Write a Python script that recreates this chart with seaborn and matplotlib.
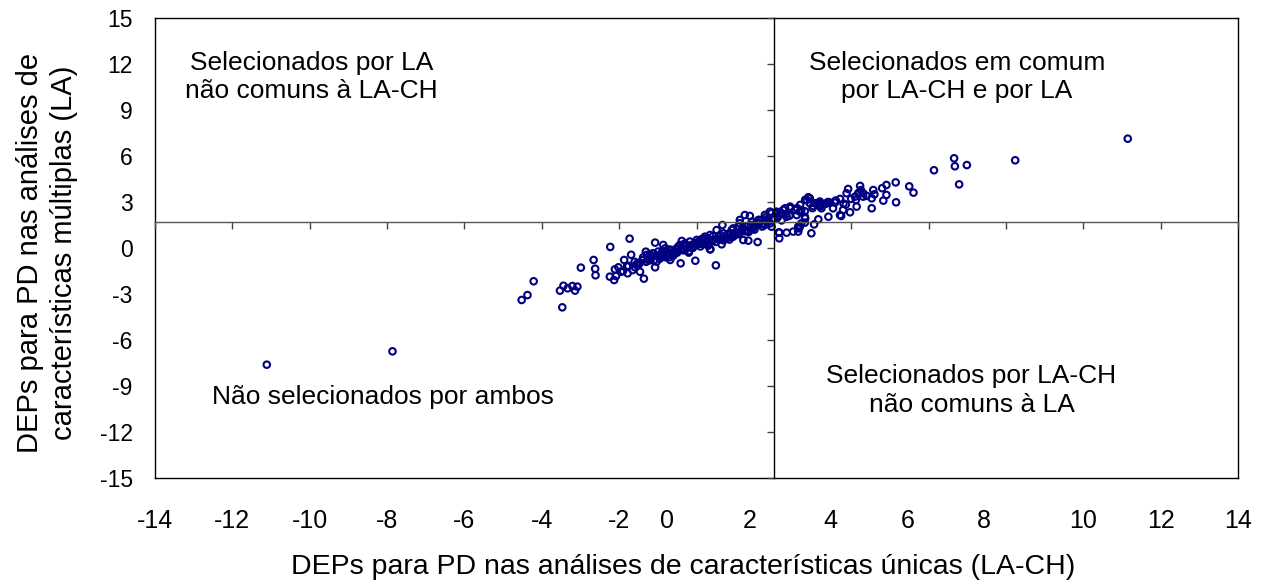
import matplotlib
matplotlib.use("Agg")
import matplotlib.pyplot as plt
import seaborn as sns
import pandas as pd

# DEPs (LA-CH, eixo x) vs DEPs (LA, eixo y)
x_lach = [
    -11.11, -7.86, -4.52, -4.37, -4.21, -3.53, -3.47, -3.44, -3.33, -3.21, -3.14, -3.08, -2.99,
    -2.66, -2.62, -2.61, -2.23, -2.24, -2.13, -2.08, -2.11, -2.02, -1.87, -1.73, -1.69, -1.76,
    -1.65, -1.59, -1.78, -1.46, -1.38, -1.31, -1.36, -1.46, -1.25, -1.16, -1.07, -1.03, -1.07,
    -0.86, -0.94, -0.77, -0.68, -0.60, -0.51, -0.43, -0.38, -0.41, -0.30, -0.21, -0.13, -0.04,
    0.05, 0.13, 0.22, 0.30, 0.43, 0.52, 0.61, -0.03, 0.36, 0.50, 0.67, 0.65, 0.87, 0.95, 1.12,
    1.25, 1.38, 1.34, 1.21, 1.58, 1.47, 1.60, 1.73, 1.81, 1.90, 1.94,
    -1.29, -1.20, -1.12, -0.99, -0.90, -0.81, -0.73, -0.64, -0.56, -0.47, -0.34, -0.25, -0.17,
    -0.08, 0.01, 0.09, 0.18, 0.26, 0.35, 0.44, 0.57, 0.70, 0.78, 0.91, 1.00, 1.08, 1.17, 1.30,
    1.43, 1.51, 1.64, 1.77, 1.86, 1.94, 2.07, 2.20, 2.29, 2.42, 2.55, 2.68, 2.81, 2.89, 3.06,
    3.19, 3.32, 3.45,
    0.35, 0.95, 1.12, 1.77, 2.65, 2.81, 2.16,
    2.13, 2.14, 2.33, 2.50, 2.63, 2.71, 2.97, 3.04, 3.15, 3.41, 3.71, 3.97, 4.14, 4.53, 3.92,
    4.23, 4.57, 4.91, 5.16, 4.83, 4.53, 4.91, 3.58, 3.71, 2.93, 3.79, 4.10, 4.31, 2.42, 2.67,
    3.18, 3.53,
    11.15, 8.24, 6.66, 6.68, 6.99, 6.79, 6.14, 5.15, 5.50, 5.61, 4.18, 4.12, 3.86, 3.74, 3.37,
    2.80, 2.80, 3.88, 2.85, 3.02, 3.10, 3.23, 1.56, 2.07, 2.24, 2.33, 2.59, 2.71, 4.25, 4.31,
    2.67, 2.63, 2.14, 2.93, 3.19,
    -1.95, -1.55, -1.20, -0.85, -0.60, -0.35, -0.10, 0.15, 0.40, 0.60, 0.80, 1.05, 1.25, 1.45,
    1.70, -0.70, -0.20, 0.30, 0.85, 1.35, 1.85, -1.50, -0.95,
    -1.90, -1.80, -1.60, -1.50, -1.40, -1.30, -1.20, -1.10, -1.00, -0.90, -0.80, -0.70, -0.60,
    -0.50, -0.40, -0.30, -0.20, -0.10, 0.00, 0.10, 0.20, 0.30, 0.40, 0.50, 0.60, 0.70, 0.80,
    0.90, 1.00, 1.10, 1.20, 1.30, 1.40, 1.50, 1.60, 1.70, 1.80, 1.90, 2.00, 2.10, 2.20, 2.30,
    2.40, 2.60, 2.80, 3.00, 3.20, 3.40, 3.60, 3.80, 4.00, 4.20, 4.40, 4.60, 4.80,
]
y_la = [
    -7.61, -6.74, -3.39, -3.07, -2.17, -2.78, -3.87, -2.46, -2.63, -2.48, -2.78, -2.52, -1.28,
    -0.78, -1.35, -1.78, 0.07, -1.87, -2.09, -1.83, -1.39, -1.26, -0.78, 0.61, -0.44, -1.17,
    -1.44, -1.26, -1.65, -0.96, -0.61, -0.24, -2.00, -1.55, -0.78, -0.57, -1.26, -0.89, 0.35,
    0.20, -0.46, -0.24, -0.78, -0.24, -0.02, 0.20, 0.46, -1.00, -0.13, 0.08, 0.20, 0.31,
    0.41, 0.57, 0.74, 0.63, 0.78, 1.17, 0.85, -0.83, -0.08, -1.13, 1.50, 0.24, 0.96, 0.74, 1.61,
    2.15, 2.09, 0.48, 0.52, 0.39, 1.39, 1.83, 1.61, 2.04, 2.37, 1.39,
    -0.45, -0.67, -0.34, -0.23, -0.56, -0.02, -0.45, -0.13, -0.34, 0.09, 0.20, -0.02, 0.42,
    0.09, 0.53, 0.31, 0.64, 0.42, 0.85, 0.53, 0.74, 0.96, 0.64, 1.18, 0.85, 1.40, 1.18, 1.40,
    1.72, 1.51, 1.83, 2.16, 1.94, 2.27, 2.37, 2.27, 2.59, 2.70, 2.48, 2.81, 3.14, 3.31, 2.92,
    3.03, 2.87, 2.96,
    -0.09, 1.28, 1.83, 1.50, 1.28, 1.93, 2.26,
    1.02, 0.63, 1.00, 1.07, 1.39, 1.61, 0.96, 1.54, 1.87, 2.04, 2.15, 2.33, 2.70, 2.59, 3.85,
    4.05, 3.78, 4.11, 2.98, 3.09, 3.24, 3.46, 2.96, 3.20, 3.24, 2.48, 3.35, 3.57, 2.59, 2.37,
    2.92, 2.59,
    7.13, 5.72, 5.85, 5.33, 5.41, 4.15, 5.07, 4.28, 4.02, 3.61, 3.57, 3.13, 2.83, 2.09, 2.92,
    2.04, 1.65, 3.57, 3.13, 2.74, 2.87, 2.59, 1.72, 2.26, 2.48, 2.04, 2.15, 2.48, 3.78, 3.35,
    1.39, 1.07, 1.00, 2.92, 2.80,
    -1.55, -1.05, -0.80, -0.55, -0.35, -0.15, 0.05, 0.25, 0.45, 0.55, 0.70, 0.95, 1.10, 1.25,
    1.55, -0.60, -0.30, 0.15, 0.55, 1.05, 1.70, -1.00, -0.70,
    -1.50, -1.20, -0.90, -1.10, -0.80, -0.90, -0.40, -0.80, -0.50, -0.30, -0.60, -0.10, -0.50,
    -0.30, -0.10, 0.30, -0.20, 0.00, 0.20, 0.10, 0.30, 0.20, 0.50, 0.40, 0.60, 0.50, 0.90,
    0.70, 1.00, 0.90, 1.30, 1.10, 1.50, 1.20, 1.60, 1.40, 1.80, 1.60, 1.90, 2.00, 1.80, 2.20,
    2.10, 2.60, 2.40, 2.60, 2.70, 3.00, 3.10, 2.90, 3.20, 3.60, 3.40, 3.50, 3.90,
]

x_ticks = list(range(-14, 15, 2))
x_tick_labels = [str(v) for v in x_ticks]
# posição dos rótulos do eixo x (no original, 0 a 8 estão deslocados para a esquerda)
x_label_pos = [-14, -12, -10, -8, -6, -4, -2, -0.75, 1.37, 3.46, 5.45, 7.42, 10, 12, 14]
y_ticks = list(range(-15, 16, 3))
y_tick_labels = [str(v) for v in y_ticks]
x_cross = 2.0
y_cross = 1.7

quad_texts = [
    "Selecionados por LA\nnão comuns à LA-CH",
    "Selecionados em comum\npor LA-CH e por LA",
    "Selecionados por LA-CH\nnão comuns à LA",
    "Não selecionados por ambos",
]
quad_x = [-9.95, 6.73, 7.11, -8.10]
quad_y = [11.15, 11.15, -9.3, -9.72]

df = pd.DataFrame({"lach": x_lach, "la": y_la})

sns.set_theme(style="white")
plt.rcParams['font.family'] = ['Liberation Sans', 'DejaVu Sans']
plt.rcParams['axes.unicode_minus'] = False
plt.rcParams['text.color'] = 'black'
plt.rcParams['axes.labelcolor'] = 'black'

fig = plt.figure(figsize=(12.71, 5.84), dpi=100)
rect = [155 / 1271, 106 / 584, 1083 / 1271, 460 / 584]

# moldura + rótulos
ax_f = fig.add_axes(rect)
ax_f.set_xlim(-14, 14)
ax_f.set_ylim(-15, 15)
ax_f.set_xticks(x_label_pos)
ax_f.set_xticklabels(x_tick_labels, fontsize=18, color='black')
ax_f.set_yticks(y_ticks)
ax_f.set_yticklabels(y_tick_labels, fontsize=16.5, color='black')
ax_f.tick_params(axis='x', length=0, pad=22)
ax_f.tick_params(axis='y', length=0, pad=16)
for sp in ax_f.spines.values():
    sp.set_visible(True)
    sp.set_color('black')
    sp.set_linewidth(1.0)
ax_f.set_xlabel("DEPs para PD nas análises de características únicas (LA-CH)",
                fontsize=20.5, color='black')
ax_f.xaxis.set_label_coords(0.488, -0.165)
ax_f.set_ylabel("DEPs para PD nas análises de\ncaracterísticas múltiplas (LA)",
                fontsize=21, color='black', linespacing=1.3)
ax_f.yaxis.set_label_coords(-0.071, 0.49)

# dados + eixos que se cruzam
ax = fig.add_axes(rect)
ax.set_zorder(2)
ax.patch.set_alpha(0)
sns.scatterplot(data=df, x="lach", y="la", ax=ax, marker="o", s=22, color="#000080",
                facecolors="none", edgecolor="#000080", linewidth=1.5, legend=False)
ax.set_xlim(-14, 14)
ax.set_ylim(-15, 15)
ax.spines['top'].set_visible(False)
ax.spines['right'].set_visible(False)
ax.spines['left'].set_position(('data', x_cross))
ax.spines['bottom'].set_position(('data', y_cross))
ax.spines['left'].set_color('black')
ax.spines['left'].set_linewidth(1.0)
ax.spines['bottom'].set_color('#555555')
ax.spines['bottom'].set_linewidth(1.0)
ax.set_xticks(x_ticks)
ax.set_yticks(y_ticks)
ax.tick_params(axis='x', direction='out', length=5, width=1, color='#444444',
               labelbottom=False, bottom=True)
ax.tick_params(axis='y', direction='out', length=5, width=1, color='#444444',
               labelleft=False, left=True)
ax.set_xlabel("")
ax.set_ylabel("")

for t, tx, ty in zip(quad_texts, quad_x, quad_y):
    ax.text(tx, ty, t, ha='center', va='center', fontsize=19, linespacing=1.25,
            multialignment='center', color='black')

fig.savefig("out.png", dpi=100)
